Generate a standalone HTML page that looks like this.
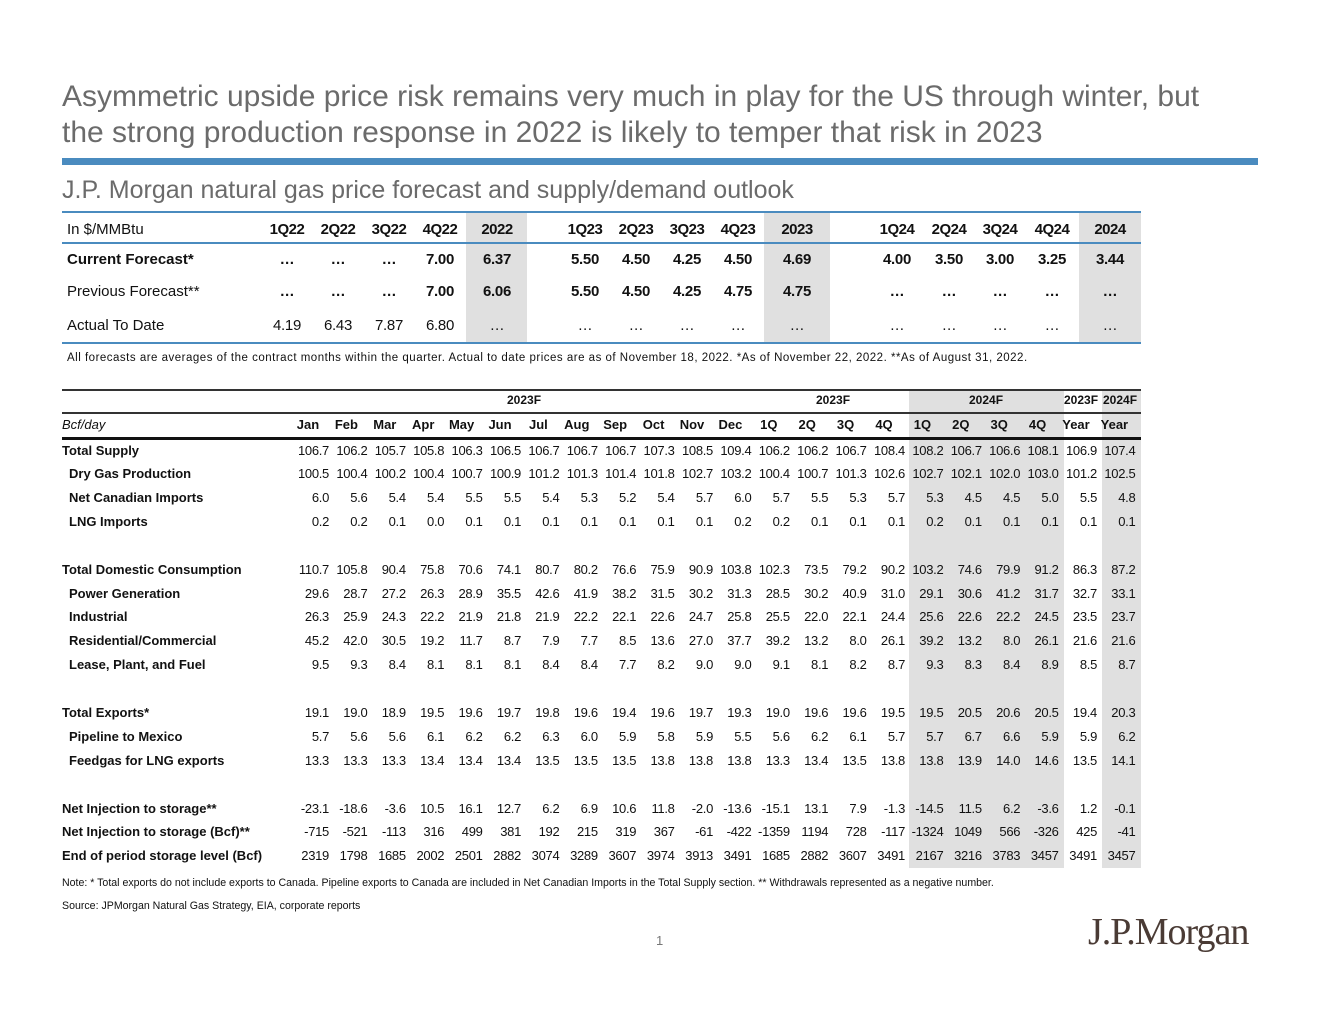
<!DOCTYPE html>
<html><head><meta charset="utf-8">
<style>
body{margin:0;width:1320px;height:1020px;background:#fff;position:relative;overflow:hidden;font-family:"Liberation Sans",Arial,sans-serif;color:#111}
.a{position:absolute;white-space:nowrap}
.t{line-height:16px;height:16px}
.title{left:62px;font-size:30px;color:#6b6b6b;line-height:36px}
.g{position:absolute;background:#e0e0e0}
.ln{position:absolute}
</style></head><body>
<div class="a title" style="top:79px">Asymmetric upside price risk remains very much in play for the US through winter, but</div>
<div class="a title" style="top:115px">the strong production response in 2022 is likely to temper that risk in 2023</div>
<div class="ln" style="left:62px;top:158px;width:1196px;height:7px;background:#4a8bbf"></div>
<div class="a" style="left:62px;top:175px;font-size:25px;color:#6b6b6b;line-height:30px">J.P. Morgan natural gas price forecast and supply/demand outlook</div>

<div id="top"></div>
<div class="a" style="left:67px;top:352px;font-size:11.5px;letter-spacing:0.5px">All forecasts are averages of the contract months within the quarter. Actual to date prices are as of November 18, 2022. *As of November 22, 2022. **As of  August 31, 2022.</div>

<div id="bot"></div>
<div class="a" style="left:62px;top:877px;font-size:10.6px">Note: * Total exports do not include exports to Canada. Pipeline exports to Canada are included in Net Canadian Imports in the Total Supply section. ** Withdrawals represented as a negative number.</div>
<div class="a" style="left:62px;top:900px;font-size:10.6px">Source: JPMorgan Natural Gas Strategy, EIA, corporate reports</div>
<div class="a" style="left:656px;top:933px;font-size:13px;color:#777">1</div>
<div class="a" style="left:1088px;top:910px;font-size:38px;font-family:'Liberation Serif',serif;color:#4a3b35;letter-spacing:-1px">J.P.Morgan</div>

<script>
// ---- top price table data ----
const topHeaders=["1Q22","2Q22","3Q22","4Q22","2022","1Q23","2Q23","3Q23","4Q23","2023","1Q24","2Q24","3Q24","4Q24","2024"];
const topRowLabels=["Current Forecast*","Previous Forecast**","Actual To Date"];
const currentForecast=["…","…","…","7.00","6.37","5.50","4.50","4.25","4.50","4.69","4.00","3.50","3.00","3.25","3.44"];
const previousForecast=["…","…","…","7.00","6.06","5.50","4.50","4.25","4.75","4.75","…","…","…","…","…"];
const actualToDate=["4.19","6.43","7.87","6.80","…","…","…","…","…","…","…","…","…","…","…"];

// ---- bottom supply/demand table data ----
const months=["Jan","Feb","Mar","Apr","May","Jun","Jul","Aug","Sep","Oct","Nov","Dec","1Q","2Q","3Q","4Q","1Q","2Q","3Q","4Q","Year","Year"];
const rowLabels=["Total Supply","Dry Gas Production","Net Canadian Imports","LNG Imports","","Total Domestic Consumption","Power Generation","Industrial","Residential/Commercial","Lease, Plant, and Fuel","","Total Exports*","Pipeline to Mexico","Feedgas for LNG exports","","Net Injection to storage**","Net Injection to storage (Bcf)**","End of period storage level (Bcf)"];
const totalSupply=["106.7","106.2","105.7","105.8","106.3","106.5","106.7","106.7","106.7","107.3","108.5","109.4","106.2","106.2","106.7","108.4","108.2","106.7","106.6","108.1","106.9","107.4"];
const dryGas=["100.5","100.4","100.2","100.4","100.7","100.9","101.2","101.3","101.4","101.8","102.7","103.2","100.4","100.7","101.3","102.6","102.7","102.1","102.0","103.0","101.2","102.5"];
const netCanadian=["6.0","5.6","5.4","5.4","5.5","5.5","5.4","5.3","5.2","5.4","5.7","6.0","5.7","5.5","5.3","5.7","5.3","4.5","4.5","5.0","5.5","4.8"];
const lngImports=["0.2","0.2","0.1","0.0","0.1","0.1","0.1","0.1","0.1","0.1","0.1","0.2","0.2","0.1","0.1","0.1","0.2","0.1","0.1","0.1","0.1","0.1"];
const totalConsumption=["110.7","105.8","90.4","75.8","70.6","74.1","80.7","80.2","76.6","75.9","90.9","103.8","102.3","73.5","79.2","90.2","103.2","74.6","79.9","91.2","86.3","87.2"];
const powerGen=["29.6","28.7","27.2","26.3","28.9","35.5","42.6","41.9","38.2","31.5","30.2","31.3","28.5","30.2","40.9","31.0","29.1","30.6","41.2","31.7","32.7","33.1"];
const industrial=["26.3","25.9","24.3","22.2","21.9","21.8","21.9","22.2","22.1","22.6","24.7","25.8","25.5","22.0","22.1","24.4","25.6","22.6","22.2","24.5","23.5","23.7"];
const resComm=["45.2","42.0","30.5","19.2","11.7","8.7","7.9","7.7","8.5","13.6","27.0","37.7","39.2","13.2","8.0","26.1","39.2","13.2","8.0","26.1","21.6","21.6"];
const leasePlant=["9.5","9.3","8.4","8.1","8.1","8.1","8.4","8.4","7.7","8.2","9.0","9.0","9.1","8.1","8.2","8.7","9.3","8.3","8.4","8.9","8.5","8.7"];
const totalExports=["19.1","19.0","18.9","19.5","19.6","19.7","19.8","19.6","19.4","19.6","19.7","19.3","19.0","19.6","19.6","19.5","19.5","20.5","20.6","20.5","19.4","20.3"];
const pipelineMexico=["5.7","5.6","5.6","6.1","6.2","6.2","6.3","6.0","5.9","5.8","5.9","5.5","5.6","6.2","6.1","5.7","5.7","6.7","6.6","5.9","5.9","6.2"];
const feedgasLng=["13.3","13.3","13.3","13.4","13.4","13.4","13.5","13.5","13.5","13.8","13.8","13.8","13.3","13.4","13.5","13.8","13.8","13.9","14.0","14.6","13.5","14.1"];
const netInjection=["-23.1","-18.6","-3.6","10.5","16.1","12.7","6.2","6.9","10.6","11.8","-2.0","-13.6","-15.1","13.1","7.9","-1.3","-14.5","11.5","6.2","-3.6","1.2","-0.1"];
const netInjectionBcf=["-715","-521","-113","316","499","381","192","215","319","367","-61","-422","-1359","1194","728","-117","-1324","1049","566","-326","425","-41"];
const storageLevel=["2319","1798","1685","2002","2501","2882","3074","3289","3607","3974","3913","3491","1685","2882","3607","3491","2167","3216","3783","3457","3491","3457"];

function mk(parent,cls,txt,style,name){
  const d=document.createElement('div');
  d.className=cls;d.textContent=txt;d.style.cssText=style;
  
  
  document.body.appendChild(d);return d;
}
// ---- top table layout ----
const topCenters=[287,338,389,440,497,585,636,687,738,797,897,949,1000,1052,1110];
[[466,527],[764,830],[1079,1141]].forEach(g=>mk(null,'g','',`left:${g[0]}px;top:213px;width:${g[1]-g[0]}px;height:130px`,'year-highlight'));
mk(null,'ln','','left:62px;top:211px;width:1079px;height:2px;background:#4a8bbf','top-rule');
mk(null,'ln','','left:62px;top:242px;width:1079px;height:2px;background:#4a8bbf','header-rule');
mk(null,'ln','','left:62px;top:342px;width:1079px;height:2px;background:#4a8bbf','bottom-rule');
mk(null,'a t','In $/MMBtu','left:67px;top:222px;font-size:15px','units-label');
topHeaders.forEach((h,i)=>mk(null,'a t',h,`left:${topCenters[i]-30}px;width:60px;text-align:center;top:222px;font-size:15px;font-weight:bold;letter-spacing:-0.5px`,'col-header'));
const topRows=[currentForecast,previousForecast,actualToDate];
const topYs=[252,284,318];
topRows.forEach((row,r)=>{
  const bold=r<2;
  mk(null,'a t',topRowLabels[r],`left:67px;top:${topYs[r]}px;font-size:15px;${r==0?'font-weight:bold;':''}`,'row-label');
  row.forEach((v,i)=>mk(null,'a t',v,`left:${topCenters[i]-30}px;width:60px;text-align:center;top:${topYs[r]}px;font-size:15px;${bold?'font-weight:bold;':''}letter-spacing:-0.3px`,'price-cell'));
});

// ---- bottom table layout ----
const colRight=i=>329+i*38.4;
const boldRows=new Set([0,5,11,15,16,17]);
mk(null,'g','','left:909px;top:391px;width:155px;height:477px','2024-quarters-highlight');
mk(null,'g','','left:1102px;top:391px;width:39px;height:477px','2024-year-highlight');
mk(null,'ln','','left:62px;top:389px;width:1079px;height:2px;background:#333','table-top-rule');
mk(null,'ln','','left:62px;top:412px;width:1079px;height:2px;background:#333','group-rule');
mk(null,'ln','','left:62px;top:437px;width:1079px;height:3px;background:#111','header-rule');
mk(null,'a t','2023F','left:507px;top:392px;font-size:12px;font-weight:bold','group-2023f-months');
mk(null,'a t','2023F','left:816px;top:392px;font-size:12px;font-weight:bold','group-2023f-quarters');
mk(null,'a t','2024F','left:969px;top:392px;font-size:12px;font-weight:bold','group-2024f');
mk(null,'a t','2023F','left:1064px;top:392px;font-size:12px;font-weight:bold','group-2023f-year');
mk(null,'a t','2024F','left:1103px;top:392px;font-size:12px;font-weight:bold','group-2024f-year');
mk(null,'a t','Bcf/day','left:62px;top:417px;font-size:13px;font-style:italic','units-label');
months.forEach((m,i)=>mk(null,'a t',m,`left:${colRight(i)-38}px;width:34px;text-align:center;top:417px;font-size:13px;font-weight:bold`,'month-header'));
const dataRows=[totalSupply,dryGas,netCanadian,lngImports,null,totalConsumption,powerGen,industrial,resComm,leasePlant,null,totalExports,pipelineMexico,feedgasLng,null,netInjection,netInjectionBcf,storageLevel];
const rowY=[451,474,498,522,546,570,594,617,641,665,689,713,737,761,785,809,832,856];
dataRows.forEach((row,r)=>{
  if(!row)return;
  const indent=boldRows.has(r)?62:69;
  mk(null,'a t',rowLabels[r],`left:${indent}px;top:${rowY[r]-8}px;font-size:13px;font-weight:bold`,'row-label');
  row.forEach((v,i)=>mk(null,'a t',v,`left:${colRight(i)-45}px;width:45px;text-align:right;top:${rowY[r]-8}px;font-size:13px;letter-spacing:-0.3px`,'data-cell'));
});
</script>
</body></html>
